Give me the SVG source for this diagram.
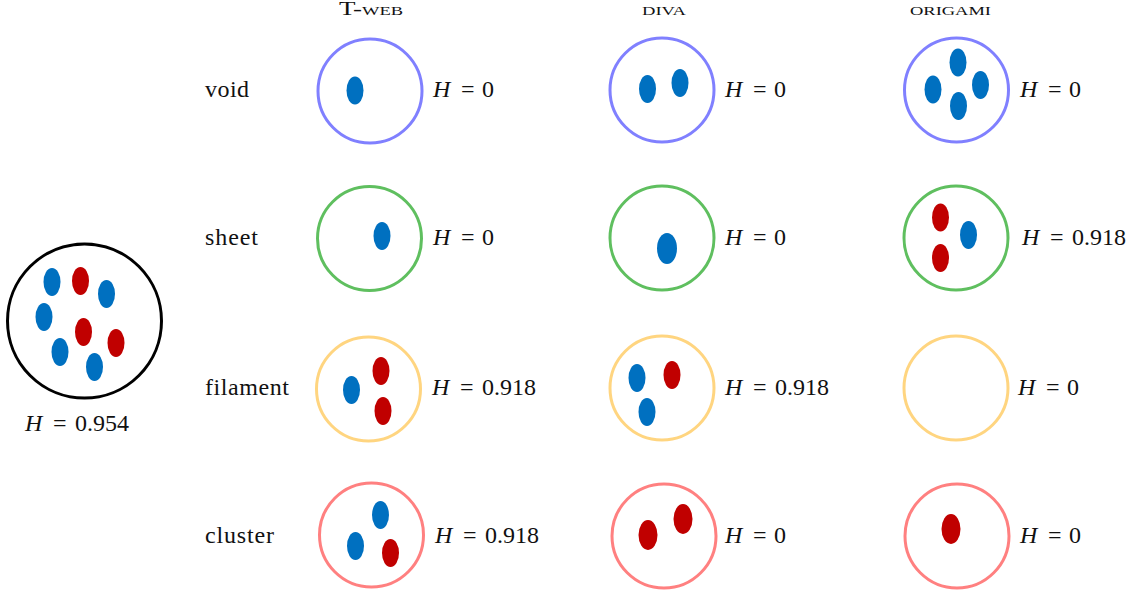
<svg xmlns="http://www.w3.org/2000/svg" width="1139" height="595" viewBox="0 0 1139 595">
<style>
.c{fill:none;stroke-width:3}
.k{stroke:#000}
.p{stroke:#8080FF}
.g{stroke:#5FBF5F}
.y{stroke:#FFD580}
.rr{stroke:#FF8080}
.b{fill:#0070C0}
.r{fill:#C00000}
.t{font-family:"Liberation Serif",serif;font-size:24px;fill:#111}
.m{font-family:"Liberation Serif",serif;font-size:24px;fill:#111}
.h{font-family:"Liberation Serif",serif;font-size:19px;fill:#111;font-variant:small-caps;text-anchor:start}
.i{font-style:italic}
</style>
<g id="headers">
<text class="h" x="339" y="15" textLength="64" lengthAdjust="spacingAndGlyphs">T-web</text>
<text class="h" x="642" y="15" textLength="44" lengthAdjust="spacingAndGlyphs">diva</text>
<text class="h" x="910" y="15" textLength="81" lengthAdjust="spacingAndGlyphs">origami</text>
</g>
<g id="row-labels">
<text class="t" x="205" y="97" textLength="44">void</text>
<text class="t" x="205" y="245" textLength="53">sheet</text>
<text class="t" x="205" y="395" textLength="84">filament</text>
<text class="t" x="205" y="543" textLength="69">cluster</text>
</g>
<g id="total">
<circle class="c k" cx="84.5" cy="321" r="77"/>
<ellipse class="b" cx="52" cy="282" rx="8.5" ry="14"/>
<ellipse class="r" cx="80.5" cy="281" rx="8.5" ry="14"/>
<ellipse class="b" cx="106.5" cy="294" rx="8.5" ry="14"/>
<ellipse class="b" cx="44" cy="317" rx="8.5" ry="14"/>
<ellipse class="r" cx="83.5" cy="332" rx="8.5" ry="14"/>
<ellipse class="r" cx="116" cy="343" rx="8.5" ry="14"/>
<ellipse class="b" cx="60" cy="352" rx="8.5" ry="14"/>
<ellipse class="b" cx="94.5" cy="367" rx="8.5" ry="14"/>
<text class="m" x="25" y="431"><tspan class="i">H</tspan><tspan x="53">=</tspan><tspan x="75">0.954</tspan></text>
</g>
<g id="tweb-void">
<circle class="c p" cx="370" cy="91" r="52"/>
<ellipse class="b" cx="355" cy="90.5" rx="8.5" ry="14"/>
<text class="m" x="433" y="97"><tspan class="i">H</tspan><tspan x="461">=</tspan><tspan x="482">0</tspan></text>
</g>
<g id="diva-void">
<circle class="c p" cx="662" cy="90" r="52"/>
<ellipse class="b" cx="647.5" cy="89" rx="8.5" ry="14"/>
<ellipse class="b" cx="680" cy="83" rx="8.5" ry="14"/>
<text class="m" x="725" y="97"><tspan class="i">H</tspan><tspan x="753">=</tspan><tspan x="774">0</tspan></text>
</g>
<g id="origami-void">
<circle class="c p" cx="956.5" cy="90" r="52"/>
<ellipse class="b" cx="958" cy="62.5" rx="8.5" ry="14"/>
<ellipse class="b" cx="933" cy="89.5" rx="8.5" ry="14"/>
<ellipse class="b" cx="980.5" cy="85" rx="8.5" ry="14"/>
<ellipse class="b" cx="958.5" cy="106" rx="8.5" ry="14"/>
<text class="m" x="1020" y="97"><tspan class="i">H</tspan><tspan x="1048">=</tspan><tspan x="1069">0</tspan></text>
</g>
<g id="tweb-sheet">
<circle class="c g" cx="369.5" cy="238.5" r="52"/>
<ellipse class="b" cx="382" cy="236" rx="8.5" ry="14"/>
<text class="m" x="433" y="245"><tspan class="i">H</tspan><tspan x="461">=</tspan><tspan x="482">0</tspan></text>
</g>
<g id="diva-sheet">
<circle class="c g" cx="662" cy="238" r="52"/>
<ellipse class="b" cx="667" cy="248.5" rx="10" ry="15.5"/>
<text class="m" x="725" y="245"><tspan class="i">H</tspan><tspan x="753">=</tspan><tspan x="774">0</tspan></text>
</g>
<g id="origami-sheet">
<circle class="c g" cx="956" cy="238" r="52"/>
<ellipse class="r" cx="940.5" cy="217.5" rx="8.5" ry="14"/>
<ellipse class="r" cx="940.5" cy="258" rx="8.5" ry="14"/>
<ellipse class="b" cx="968.5" cy="235" rx="8.5" ry="14"/>
<text class="m" x="1022" y="245"><tspan class="i">H</tspan><tspan x="1050">=</tspan><tspan x="1072">0.918</tspan></text>
</g>
<g id="tweb-filament">
<circle class="c y" cx="368.5" cy="389" r="52"/>
<ellipse class="b" cx="351.5" cy="390" rx="8.5" ry="14"/>
<ellipse class="r" cx="381" cy="371" rx="8.5" ry="14"/>
<ellipse class="r" cx="383" cy="411" rx="8.5" ry="14"/>
<text class="m" x="432" y="395"><tspan class="i">H</tspan><tspan x="460">=</tspan><tspan x="482">0.918</tspan></text>
</g>
<g id="diva-filament">
<circle class="c y" cx="662" cy="388" r="52"/>
<ellipse class="b" cx="637" cy="378" rx="8.5" ry="14"/>
<ellipse class="r" cx="672" cy="375" rx="8.5" ry="14"/>
<ellipse class="b" cx="647" cy="412" rx="8.5" ry="14"/>
<text class="m" x="725" y="395"><tspan class="i">H</tspan><tspan x="753">=</tspan><tspan x="775">0.918</tspan></text>
</g>
<g id="origami-filament">
<circle class="c y" cx="956" cy="388" r="52"/>
<text class="m" x="1018" y="395"><tspan class="i">H</tspan><tspan x="1046">=</tspan><tspan x="1067">0</tspan></text>
</g>
<g id="tweb-cluster">
<circle class="c rr" cx="371.5" cy="535" r="52"/>
<ellipse class="b" cx="380.5" cy="515" rx="8.5" ry="14"/>
<ellipse class="b" cx="355.5" cy="546" rx="8.5" ry="14"/>
<ellipse class="r" cx="390.5" cy="553" rx="8.5" ry="14"/>
<text class="m" x="435" y="543"><tspan class="i">H</tspan><tspan x="463">=</tspan><tspan x="485">0.918</tspan></text>
</g>
<g id="diva-cluster">
<circle class="c rr" cx="664" cy="536" r="52"/>
<ellipse class="r" cx="648" cy="535" rx="9.5" ry="15"/>
<ellipse class="r" cx="683" cy="519" rx="9.5" ry="15"/>
<text class="m" x="725" y="543"><tspan class="i">H</tspan><tspan x="753">=</tspan><tspan x="774">0</tspan></text>
</g>
<g id="origami-cluster">
<circle class="c rr" cx="957" cy="536" r="52"/>
<ellipse class="r" cx="951" cy="529" rx="9.5" ry="15"/>
<text class="m" x="1020" y="543"><tspan class="i">H</tspan><tspan x="1048">=</tspan><tspan x="1069">0</tspan></text>
</g>
</svg>
